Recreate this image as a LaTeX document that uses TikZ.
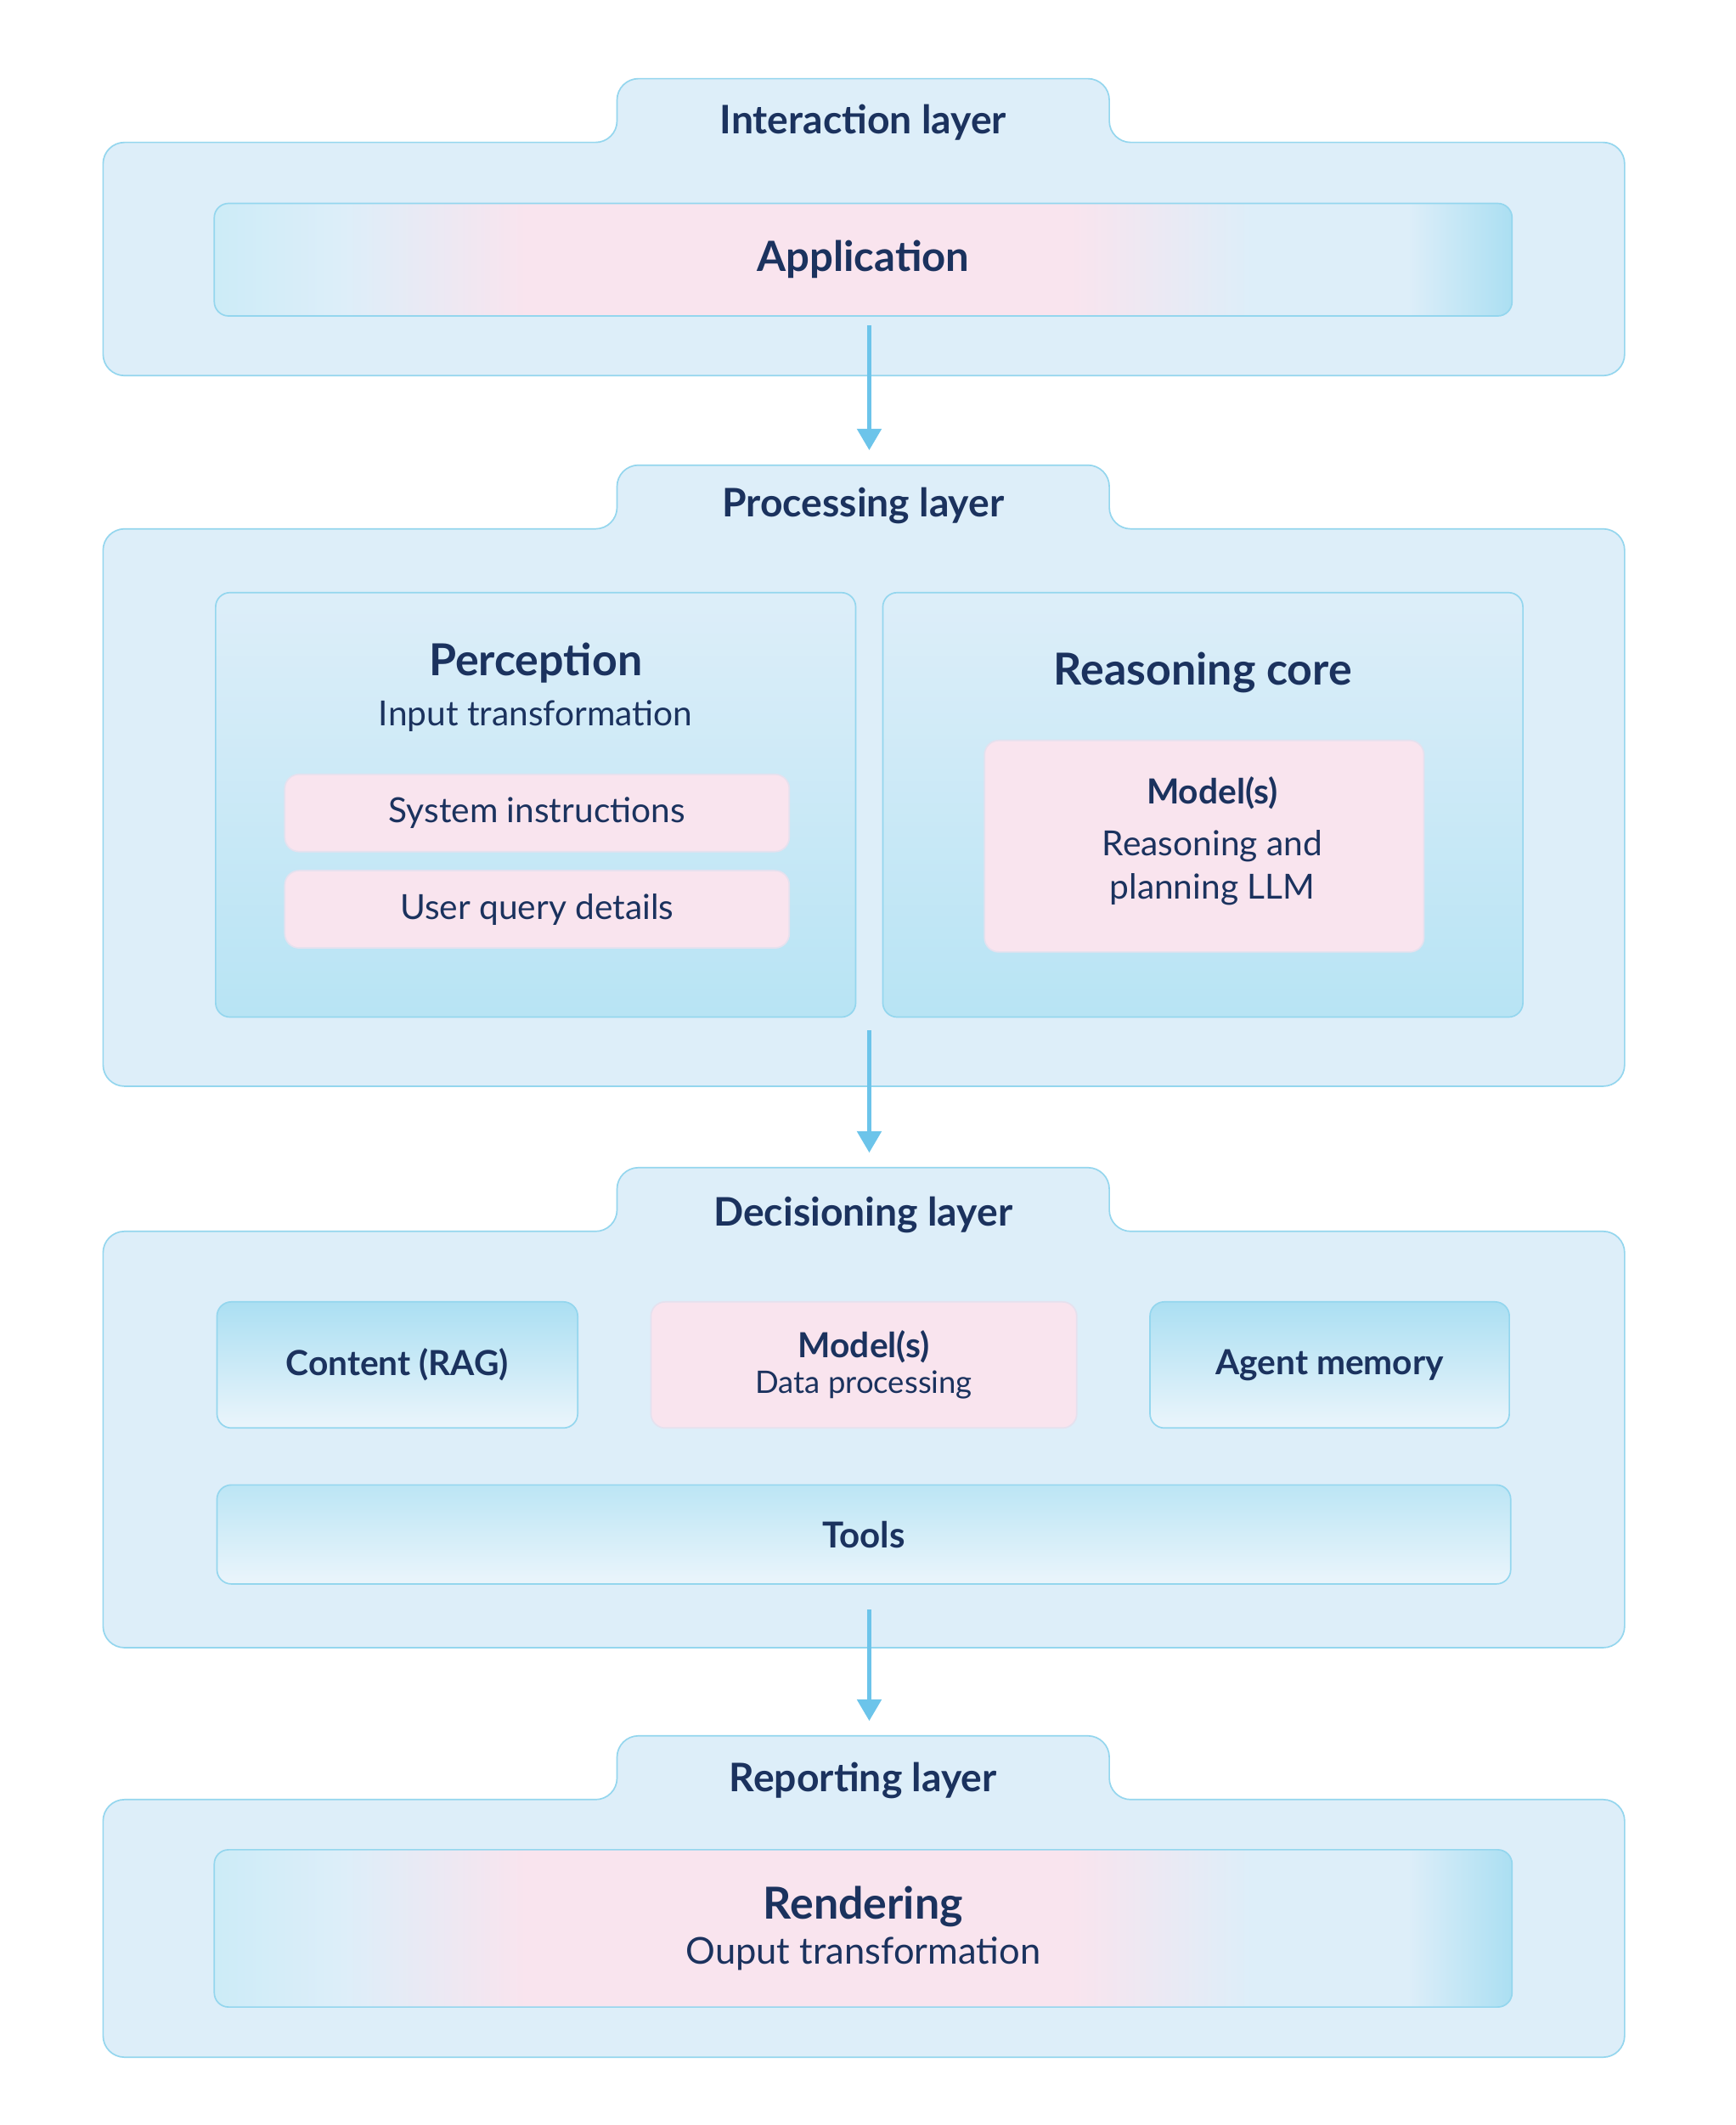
\documentclass[tikz,border=0pt]{standalone}
\usepackage{fontspec}
\setmainfont{Lato}
\usetikzlibrary{arrows.meta}
\definecolor{ink}{HTML}{1B325E}
\definecolor{rim}{HTML}{94D6EE}
\definecolor{panel}{HTML}{DDEEF9}
\definecolor{tabfill}{HTML}{D3ECF9}
\definecolor{pinky}{HTML}{F9E4EE}
\definecolor{aqua}{HTML}{ABDFF2}
\definecolor{arrowc}{HTML}{6CC4EA}
\pgfdeclarehorizontalshading{bandshade}{100bp}{
  color(0bp)=(aqua!60!white); color(25bp)=(aqua!60!white); color(30bp)=(panel);
  color(37bp)=(pinky); color(58bp)=(pinky); color(65bp)=(panel); color(71bp)=(panel);
  color(75bp)=(aqua); color(100bp)=(aqua)}
\tikzset{
  box/.style={draw=rim, line width=0.6pt, rounded corners=6pt, inner sep=0pt, outer sep=0pt, text=ink, align=center},
  band/.style={box, shading=bandshade},
  layerbg/.style={draw=rim, line width=0.6pt, fill=panel, rounded corners=9pt},
  title/.style={text=ink, font=\fontsize{16.5}{19}\selectfont\bfseries},
  flow/.style={draw=arrowc, line width=1.8pt, -{Triangle[length=9pt,width=10pt]}}
}
\newcommand{\layer}[3]{% top of tab, top of panel, bottom of panel
  \draw[layerbg] (76,#3) -- (76,#2) -- (455,#2) -- (455,#1) -- (818,#1) -- (818,#2) -- (1198,#2) -- (1198,#3) -- cycle;}
\begin{document}
\begin{tikzpicture}[x=0.02cm, y=-0.02cm]
\useasboundingbox (0,0) rectangle (1280,1567);
\fill[white] (0,0) rectangle (1280,1567);

% Interaction layer
\layer{58}{105}{277}
\node[title] (tab1) at (636.5,90) {Interaction layer};
\node[band, minimum width=957*0.02cm, minimum height=83*0.02cm,
  font=\fontsize{17.5}{20}\selectfont\bfseries] (app) at (636.5,191.5) {Application};

% Processing layer
\layer{343}{390}{801}
\node[title] (tab2) at (636.5,373) {Processing layer};
\coordinate (tab2top) at (641,343);
\node[box, top color=panel, bottom color=aqua!85!white, minimum width=472*0.02cm, minimum height=313*0.02cm] (perc) at (395,593.5) {};
\node[box, top color=panel, bottom color=aqua!85!white, minimum width=472*0.02cm, minimum height=313*0.02cm] (reas) at (887,593.5) {};
\node[text=ink, font=\fontsize{18.5}{21}\selectfont\bfseries] (perct) at (395,489) {Perception};
\node[text=ink, font=\fontsize{14.5}{17}\selectfont] (percs) at (395,528) {Input transformation};
\node[box, draw=pinky!80!rim, fill=pinky, minimum width=372*0.02cm, minimum height=57*0.02cm, font=\fontsize{14.5}{17}\selectfont] (sys) at (396,599.5) {System instructions};
\node[box, draw=pinky!80!rim, fill=pinky, minimum width=372*0.02cm, minimum height=57*0.02cm, font=\fontsize{14.5}{17}\selectfont] (usr) at (396,670.5) {User query details};
\node[text=ink, font=\fontsize{18.5}{21}\selectfont\bfseries] (reast) at (887,496) {Reasoning core};
\node[box, draw=pinky!80!rim, fill=pinky, minimum width=324*0.02cm, minimum height=156*0.02cm] (mod1) at (888,624) {};
\node[text=ink, align=center, font=\fontsize{14.5}{18}\selectfont] at (894,620)
  {{\bfseries Model(s)}\\[4pt]Reasoning and\\planning LLM};

% Decisioning layer
\layer{861}{908}{1215}
\node[title] (tab3) at (636.5,896) {Decisioning layer};
\coordinate (tab3top) at (641,861);
\node[box, top color=aqua, bottom color=panel!60!white, minimum width=266*0.02cm, minimum height=93*0.02cm, font=\fontsize{14.5}{17}\selectfont\bfseries] (rag) at (293,1006.5) {Content (RAG)};
\node[box, draw=pinky!80!rim, fill=pinky, minimum width=314*0.02cm, minimum height=93*0.02cm, font=\fontsize{13}{15}\selectfont] (mod2) at (637,1006.5)
  {{\fontsize{14.5}{17}\selectfont\bfseries Model(s)}\\Data processing};
\node[box, top color=aqua, bottom color=panel!60!white, minimum width=265*0.02cm, minimum height=93*0.02cm, font=\fontsize{14.5}{17}\selectfont\bfseries] (mem) at (980.5,1006.5) {Agent memory};
\node[box, top color=aqua!80!white, bottom color=panel!60!white, minimum width=954*0.02cm, minimum height=73*0.02cm, font=\fontsize{15}{17}\selectfont\bfseries] (tools) at (637,1131.5) {Tools};
\coordinate (tab3bot) at (641,1187);

% Reporting layer
\layer{1280}{1327}{1517}
\node[title] (tab4) at (636.5,1313) {Reporting layer};
\coordinate (tab4top) at (641,1280);
\node[band, minimum width=957*0.02cm, minimum height=116*0.02cm,
  font=\fontsize{15.5}{19}\selectfont] (rend) at (636.5,1422)
  {{\fontsize{18.5}{21}\selectfont\bfseries Rendering}\\Ouput transformation};

% flow between layers
\coordinate (p1) at (641,240);
\coordinate (p2) at (641,760);
\draw[flow] (p1) -- ([yshift=11*0.02cm]tab2top);
\draw[flow] (p2) -- ([yshift=11*0.02cm]tab3top);
\draw[flow] (tab3bot) -- ([yshift=11*0.02cm]tab4top);
\end{tikzpicture}
\end{document}
